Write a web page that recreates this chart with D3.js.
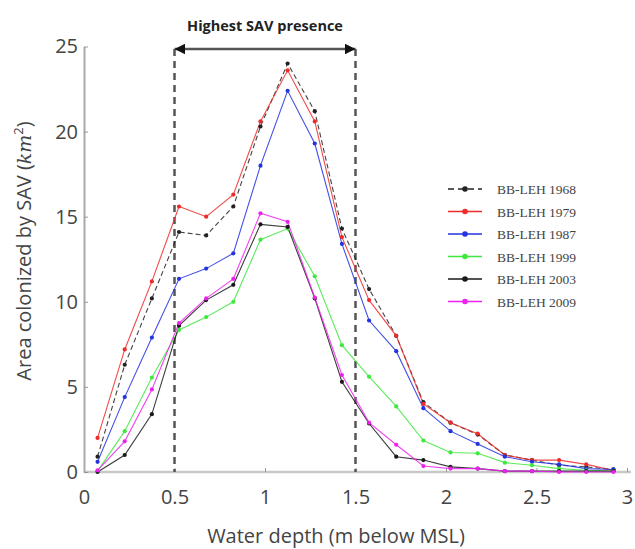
<!DOCTYPE html>
<html lang="en">
<head>
<meta charset="utf-8">
<title>SAV area by water depth</title>
<script src="https://cdn.jsdelivr.net/npm/d3@7"></script>
<style>
  body { margin: 0; background: #fff; }
  svg { display: block; }
  .tick text { font-family: "Open Sans", sans-serif; font-size: 20px; fill: #444; }
</style>
</head>
<body>
<script>
// depth bins (m below MSL)
var depth = [0.075, 0.225, 0.375, 0.525, 0.675, 0.825, 0.975, 1.125, 1.275, 1.425,
             1.575, 1.725, 1.875, 2.025, 2.175, 2.325, 2.475, 2.625, 2.775, 2.925];

// area colonized by SAV, km2
var y1968 = [0.9, 6.3, 10.2, 14.1, 13.9, 15.6, 20.3, 24.0, 21.2, 14.3, 10.75, 8.0, 4.1, 2.9, 2.2, 1.0, 0.7, 0.4, 0.3, 0.15];
var y1979 = [2.0, 7.2, 11.2, 15.6, 15.0, 16.3, 20.6, 23.6, 20.6, 13.8, 10.1, 8.0, 4.0, 2.9, 2.25, 1.0, 0.7, 0.7, 0.45, 0.1];
var y1987 = [0.6, 4.4, 7.9, 11.35, 11.95, 12.85, 18.0, 22.4, 19.3, 13.4, 8.9, 7.1, 3.75, 2.4, 1.65, 0.9, 0.6, 0.45, 0.2, 0.15];
var y1999 = [0.05, 2.4, 5.55, 8.35, 9.1, 10.0, 13.65, 14.3, 11.5, 7.45, 5.6, 3.85, 1.85, 1.15, 1.1, 0.55, 0.4, 0.2, 0.1, 0.05];
var y2003 = [0.0, 1.0, 3.4, 8.6, 10.1, 11.0, 14.55, 14.4, 10.2, 5.3, 2.85, 0.9, 0.7, 0.3, 0.2, 0.05, 0.05, 0.05, 0.05, 0.05];
var y2009 = [0.1, 1.8, 4.85, 8.75, 10.2, 11.35, 15.2, 14.7, 10.25, 5.7, 2.9, 1.6, 0.35, 0.2, 0.2, 0.05, 0.05, 0.0, 0.0, 0.0];

var names = ["BB-LEH 1968", "BB-LEH 1979", "BB-LEH 1987", "BB-LEH 1999", "BB-LEH 2003", "BB-LEH 2009"];
var values = [y1968, y1979, y1987, y1999, y2003, y2009];
var colors = ["#222222", "#ee2a2a", "#2233e0", "#3ee83e", "#1a1a1a", "#ee22ee"];

var xTicks = [0, 0.5, 1, 1.5, 2, 2.5, 3];
var yTicks = [0, 5, 10, 15, 20, 25];
var band = [0.5, 1.5];

var w = 635, h = 549;

var svg = d3.select("body").append("svg")
  .attr("width", w)
  .attr("height", h);

var x = d3.scaleLinear().domain([0, 3]).range([84, 627]);
var y = d3.scaleLinear().domain([0, 25]).range([472, 46.5]);

// axes
var xAxis = svg.append("g")
  .attr("transform", "translate(0," + y(0) + ")")
  .call(d3.axisBottom(x).tickValues(xTicks).tickFormat(d3.format("")).tickSize(-4).tickSizeOuter(0).tickPadding(18));
xAxis.select(".domain").attr("stroke", "#c8c8c8").attr("stroke-width", 2.5).attr("d", "M84,0H631");
xAxis.selectAll(".tick line").attr("stroke", "#999");

var yAxis = svg.append("g")
  .attr("transform", "translate(" + x(0) + ",0)")
  .call(d3.axisLeft(y).tickValues(yTicks).tickSize(-4).tickSizeOuter(0).tickPadding(6));
yAxis.select(".domain").attr("stroke", "#aaa").attr("stroke-width", 2);
yAxis.selectAll(".tick line").attr("stroke", "#999");

// axis titles
svg.append("text")
  .attr("x", 336)
  .attr("y", 543)
  .attr("text-anchor", "middle")
  .style("font-family", "'Open Sans', sans-serif")
  .style("font-size", "20px")
  .style("fill", "#444")
  .text("Water depth (m below MSL)");

var yt = svg.append("text")
  .attr("transform", "translate(31,251) rotate(-90)")
  .attr("text-anchor", "middle")
  .style("font-family", "'Open Sans', sans-serif")
  .style("font-size", "20px")
  .style("fill", "#444");
yt.append("tspan").text("Area colonized by SAV (");
yt.append("tspan").style("font-family", "'DejaVu Serif', serif").style("font-style", "italic").style("font-size", "19px").text("km");
yt.append("tspan").attr("dy", -8).style("font-size", "13px").text("2");
yt.append("tspan").attr("dy", 8).text(")");

// highlighted band
svg.selectAll(".band")
  .data(band)
  .enter()
  .append("line")
  .attr("x1", function(d) { return x(d); })
  .attr("x2", function(d) { return x(d); })
  .attr("y1", 49)
  .attr("y2", y(0))
  .attr("stroke", "#555")
  .attr("stroke-width", 2.5)
  .attr("stroke-dasharray", "7,5");

var defs = svg.append("defs");
defs.append("marker")
  .attr("id", "head")
  .attr("viewBox", "0 0 10 10")
  .attr("refX", 10)
  .attr("refY", 5)
  .attr("markerWidth", 4)
  .attr("markerHeight", 4)
  .attr("markerUnits", "strokeWidth")
  .attr("orient", "auto-start-reverse")
  .append("path")
  .attr("d", "M0,0L10,5L0,10Z")
  .attr("fill", "#111");

svg.append("line")
  .attr("x1", x(band[0]))
  .attr("x2", x(band[1]))
  .attr("y1", 49)
  .attr("y2", 49)
  .attr("stroke", "#555")
  .attr("stroke-width", 2.7)
  .attr("marker-start", "url(#head)")
  .attr("marker-end", "url(#head)");

svg.append("text")
  .attr("x", (x(band[0]) + x(band[1])) / 2)
  .attr("y", 31)
  .attr("text-anchor", "middle")
  .style("font-family", "'Open Sans', sans-serif")
  .style("font-size", "14.5px")
  .style("font-weight", "bold")
  .style("fill", "#222")
  .text("Highest SAV presence");

// series
var line = d3.line()
  .x(function(d, i) { return x(depth[i]); })
  .y(function(d) { return y(d); });

values.forEach(function(vals, k) {
  svg.append("path")
    .datum(vals)
    .attr("fill", "none")
    .attr("stroke", colors[k])
    .attr("stroke-width", 1.1)
    .attr("stroke-opacity", 0.85)
    .attr("stroke-dasharray", k === 0 ? "5,3" : null)
    .attr("d", line);
});

values.forEach(function(vals, k) {
  svg.selectAll(".pt" + k)
    .data(vals)
    .enter()
    .append("circle")
    .attr("cx", function(d, i) { return x(depth[i]); })
    .attr("cy", function(d) { return y(d); })
    .attr("r", 2.1)
    .attr("fill", colors[k]);
});

// legend
var leg = svg.selectAll(".leg")
  .data(names)
  .enter()
  .append("g")
  .attr("transform", function(d, i) { return "translate(448," + (189 + i * 22.5) + ")"; });

leg.append("line")
  .attr("x1", 0)
  .attr("x2", 34)
  .attr("stroke", function(d, i) { return colors[i]; })
  .attr("stroke-width", 1.5)
  .attr("stroke-dasharray", function(d, i) { return i === 0 ? "6,4" : null; });

leg.append("circle")
  .attr("cx", 17)
  .attr("r", 2.8)
  .attr("fill", function(d, i) { return colors[i]; });

leg.append("text")
  .attr("x", 49)
  .attr("y", 5)
  .style("font-family", "'Liberation Serif', serif")
  .style("font-size", "13.5px")
  .style("fill", "#444")
  .text(function(d) { return d; });
</script>
</body>
</html>
